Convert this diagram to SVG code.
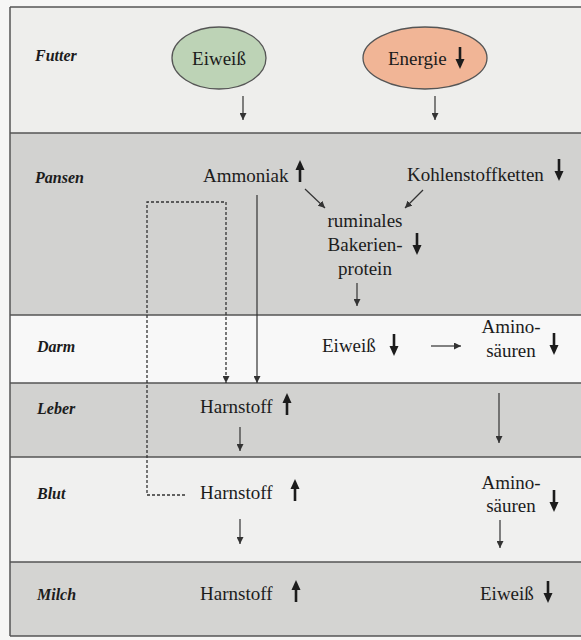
<svg xmlns="http://www.w3.org/2000/svg" width="581" height="640" viewBox="0 0 581 640">
  <style>
    text { font-family: "Liberation Serif", "DejaVu Serif", serif; fill: #1c1c1c; }
    .lbl { font-size: 16px; font-weight: bold; font-style: italic; }
    .txt { font-size: 19px; }
    .mid { text-anchor: middle; }
    .thin { stroke: #333; stroke-width: 1.2; fill: none; }
    .dash { stroke: #333; stroke-width: 1.3; fill: none; stroke-dasharray: 3 2; }
    .band-line { stroke: #555; stroke-width: 1.5; }
    .bold-stem { stroke: #1c1c1c; stroke-width: 2.6; }
    .bold-head { fill: #1c1c1c; }
  </style>
  <defs>
    <marker id="ah" viewBox="0 0 10 10" refX="10" refY="5" markerWidth="7" markerHeight="7" markerUnits="userSpaceOnUse" orient="auto">
      <path d="M0,0 L10,5 L0,10 z" fill="#333"/>
    </marker>
    <!-- bold indicator arrows, origin at the tip -->
    <g id="up">
      <line class="bold-stem" x1="0" y1="8" x2="0" y2="22"/>
      <path class="bold-head" d="M0,0 L4.5,10 L-4.5,10 z"/>
    </g>
    <g id="down">
      <line class="bold-stem" x1="0" y1="0" x2="0" y2="14"/>
      <path class="bold-head" d="M0,22 L4.5,12 L-4.5,12 z"/>
    </g>
  </defs>

  <!-- paper -->
  <rect x="0" y="0" width="581" height="640" fill="#f6f6f5"/>

  <!-- bands -->
  <g id="bands">
    <rect x="10" y="7" width="575" height="126" fill="#eeeeec"/>
    <rect x="10" y="133" width="575" height="182" fill="#d2d2d0"/>
    <rect x="10" y="315" width="575" height="68" fill="#f8f8f8"/>
    <rect x="10" y="383" width="575" height="74" fill="#d2d2d0"/>
    <rect x="10" y="457" width="575" height="105" fill="#f0f0ef"/>
    <rect x="10" y="562" width="575" height="74" fill="#d4d4d2"/>
    <line class="band-line" x1="10" y1="7" x2="581" y2="7"/>
    <line class="band-line" x1="10" y1="133" x2="581" y2="133"/>
    <line class="band-line" x1="10" y1="315" x2="581" y2="315"/>
    <line class="band-line" x1="10" y1="383" x2="581" y2="383"/>
    <line class="band-line" x1="10" y1="457" x2="581" y2="457"/>
    <line class="band-line" x1="10" y1="562" x2="581" y2="562"/>
    <line class="band-line" x1="10" y1="636" x2="581" y2="636"/>
    <line class="band-line" x1="10" y1="7" x2="10" y2="636"/>
  </g>

  <!-- row labels -->
  <g id="labels">
    <text class="lbl" x="35" y="61">Futter</text>
    <text class="lbl" x="35" y="183">Pansen</text>
    <text class="lbl" x="37" y="352">Darm</text>
    <text class="lbl" x="37" y="414">Leber</text>
    <text class="lbl" x="37" y="499">Blut</text>
    <text class="lbl" x="37" y="600">Milch</text>
  </g>

  <!-- feed -->
  <g id="futter-eiweiss">
    <ellipse cx="219" cy="58" rx="47" ry="31" fill="#bdd3b6" stroke="#555" stroke-width="1.3"/>
    <text class="txt mid" x="219" y="65">Eiweiß</text>
  </g>
  <g id="futter-energie">
    <ellipse cx="425" cy="58" rx="62" ry="31" fill="#f1b596" stroke="#555" stroke-width="1.3"/>
    <text class="txt" x="388" y="65">Energie</text>
    <use href="#down" x="460" y="47"/>
  </g>

  <!-- rumen -->
  <g id="ammoniak">
    <text class="txt" x="203" y="182">Ammoniak</text>
    <use href="#up" x="300" y="160"/>
  </g>
  <g id="kohlenstoffketten">
    <text class="txt" x="407" y="181">Kohlenstoffketten</text>
    <use href="#down" x="559" y="159"/>
  </g>
  <g id="bakterienprotein">
    <text class="txt mid" x="365" y="227">ruminales</text>
    <text class="txt mid" x="365" y="251">Bakerien-</text>
    <text class="txt mid" x="365" y="275">protein</text>
    <use href="#down" x="417" y="233"/>
  </g>

  <!-- intestine -->
  <g id="darm-eiweiss">
    <text class="txt" x="322" y="352">Eiweiß</text>
    <use href="#down" x="394" y="334"/>
  </g>
  <g id="darm-aminosaeuren">
    <text class="txt mid" x="511" y="333">Amino-</text>
    <text class="txt mid" x="511" y="357">säuren</text>
    <use href="#down" x="554" y="333"/>
  </g>

  <!-- liver -->
  <g id="leber-harnstoff">
    <text class="txt" x="200" y="413">Harnstoff</text>
    <use href="#up" x="287" y="393"/>
  </g>

  <!-- blood -->
  <g id="blut-harnstoff">
    <text class="txt" x="200" y="499">Harnstoff</text>
    <use href="#up" x="295" y="479"/>
  </g>
  <g id="blut-aminosaeuren">
    <text class="txt mid" x="511" y="489">Amino-</text>
    <text class="txt mid" x="511" y="512">säuren</text>
    <use href="#down" x="554" y="490"/>
  </g>

  <!-- milk -->
  <g id="milch-harnstoff">
    <text class="txt" x="200" y="600">Harnstoff</text>
    <use href="#up" x="296" y="580"/>
  </g>
  <g id="milch-eiweiss">
    <text class="txt" x="480" y="600">Eiweiß</text>
    <use href="#down" x="548" y="581"/>
  </g>

  <!-- connectors -->
  <g id="connectors">
    <line class="thin" x1="243" y1="96" x2="243" y2="120" marker-end="url(#ah)"/>
    <line class="thin" x1="435" y1="96" x2="435" y2="120" marker-end="url(#ah)"/>
    <line class="thin" x1="305" y1="189" x2="325" y2="208" marker-end="url(#ah)"/>
    <line class="thin" x1="423" y1="190" x2="405" y2="208" marker-end="url(#ah)"/>
    <line class="thin" x1="357" y1="283" x2="357" y2="306" marker-end="url(#ah)"/>
    <line class="thin" x1="257" y1="195" x2="257" y2="383" marker-end="url(#ah)"/>
    <path class="dash" d="M185,495 H147 V202 H226 V383" marker-end="url(#ah)"/>
    <line class="thin" x1="431" y1="346" x2="461" y2="346" marker-end="url(#ah)"/>
    <line class="thin" x1="240" y1="427" x2="240" y2="451" marker-end="url(#ah)"/>
    <line class="thin" x1="499" y1="393" x2="499" y2="443" marker-end="url(#ah)"/>
    <line class="thin" x1="240" y1="519" x2="240" y2="544" marker-end="url(#ah)"/>
    <line class="thin" x1="500" y1="520" x2="500" y2="548" marker-end="url(#ah)"/>
  </g>
</svg>
